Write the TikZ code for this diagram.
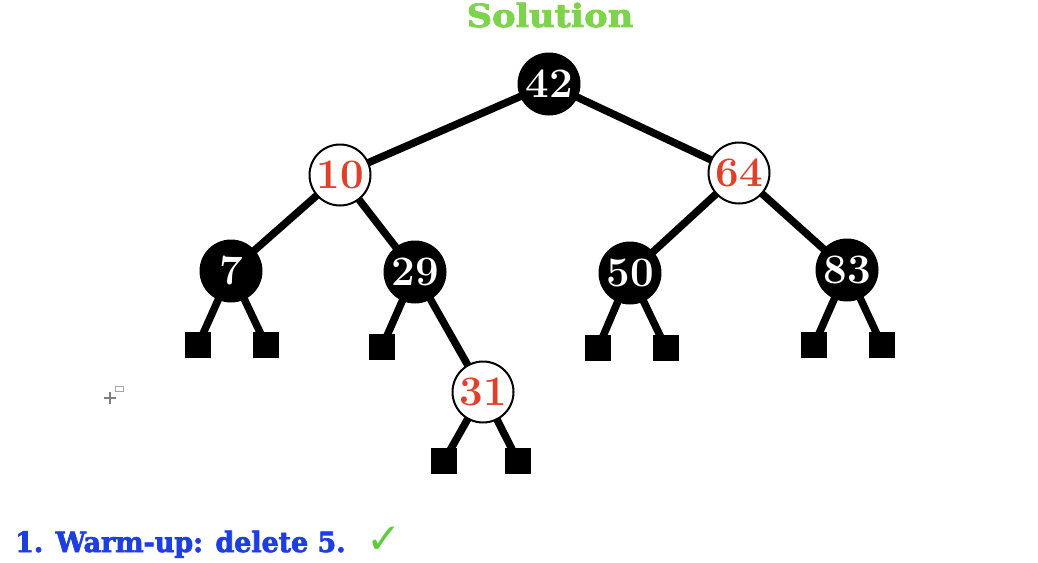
\documentclass[tikz,border=0pt]{standalone}
\usepackage{fontspec}
\newfontfamily\titlefont[BoldFeatures={FakeBold=2.5,FakeStretch=1.1}]{DejaVu Serif}
\newfontfamily\bottomfont[BoldFeatures={FakeBold=2.5,FakeStretch=0.96}]{DejaVu Serif}
\newfontfamily\symfont{DejaVu Sans}
\definecolor{titlegreen}{HTML}{7ED34C}
\definecolor{checkgreen}{HTML}{5CCB3C}
\definecolor{textblue}{HTML}{1E3FE0}
\definecolor{numred}{HTML}{E0402A}
\begin{document}
\begin{tikzpicture}[x=1pt,y=-1pt,
  numfont/.style={font=\fontsize{42}{42}\selectfont\bfseries},
  blacknode/.style={circle,fill=black,minimum size=63pt,inner sep=0pt,text=white,numfont},
  rednode/.style={circle,fill=white,draw=black,line width=2pt,minimum size=61pt,inner sep=0pt,text=numred,numfont},
  leaf/.style={rectangle,fill=black,minimum size=26pt,inner sep=0pt},
  edge/.style={line width=7.5pt,black}]
\useasboundingbox (0,0) rectangle (1038,562);
\fill[white] (0,0) rectangle (1038,562);
% coordinates of the tree
\coordinate (c42) at (549,84);
\coordinate (c10) at (340,175);
\coordinate (c64) at (739,173);
\coordinate (c7) at (231,271);
\coordinate (c29) at (415,272);
\coordinate (c50) at (630,273);
\coordinate (c83) at (847,270);
\coordinate (c31) at (483,392);
\coordinate (c1) at (198,345);
\coordinate (c2) at (266,345);
\coordinate (c3) at (382,347);
\coordinate (c4) at (598,348);
\coordinate (c5) at (666,348);
\coordinate (c6) at (814,345);
\coordinate (c7b) at (882,345);
\coordinate (c8) at (444,461);
\coordinate (c9) at (518,461);
% edges (behind nodes)
\draw[edge] (c42) -- (c10);
\draw[edge] (c42) -- (c64);
\draw[edge] (c10) -- (c7);
\draw[edge] (c10) -- (c29);
\draw[edge] (c64) -- (c50);
\draw[edge] (c64) -- (c83);
\draw[edge] (c7) -- (c1);
\draw[edge] (c7) -- (c2);
\draw[edge] (c29) -- (c3);
\draw[edge] (c29) -- (c31);
\draw[edge] (c50) -- (c4);
\draw[edge] (c50) -- (c5);
\draw[edge] (c83) -- (c6);
\draw[edge] (c83) -- (c7b);
\draw[edge] (c31) -- (c8);
\draw[edge] (c31) -- (c9);
% nodes
\node[blacknode] (n42) at (c42) {42};
\node[rednode] (n10) at (c10) {10};
\node[rednode] (n64) at (c64) {64};
\node[blacknode] (n7) at (c7) {7};
\node[blacknode] (n29) at (c29) {29};
\node[blacknode] (n50) at (c50) {50};
\node[blacknode] (n83) at (c83) {83};
\node[rednode] (n31) at (c31) {31};
\node[leaf] (l1) at (c1) {};
\node[leaf] (l2) at (c2) {};
\node[leaf] (l3) at (c3) {};
\node[leaf] (l4) at (c4) {};
\node[leaf] (l5) at (c5) {};
\node[leaf] (l6) at (c6) {};
\node[leaf] (l7) at (c7b) {};
\node[leaf] (l8) at (c8) {};
\node[leaf] (l9) at (c9) {};
% title
\node[anchor=base,inner sep=0pt,text=titlegreen,font=\titlefont\fontsize{32}{32}\selectfont\bfseries] (title) at (550,27) {Solution};
% bottom text
\node[anchor=base west,inner sep=0pt,text=textblue,font=\bottomfont\fontsize{28}{28}\selectfont\bfseries] (warm) at (15,552) {1. Warm-up: delete 5.};
\node[anchor=base west,inner sep=0pt,text=checkgreen,font=\symfont\fontsize{42}{42}\selectfont] (check) at (366,553) {✓};
% cursor icon
\draw[gray,line width=1.5pt] (104,398) -- (116,398) (110,392) -- (110,404);
\draw[gray!70,line width=0.8pt] (115,386) rectangle (123,391);
\end{tikzpicture}
\end{document}
